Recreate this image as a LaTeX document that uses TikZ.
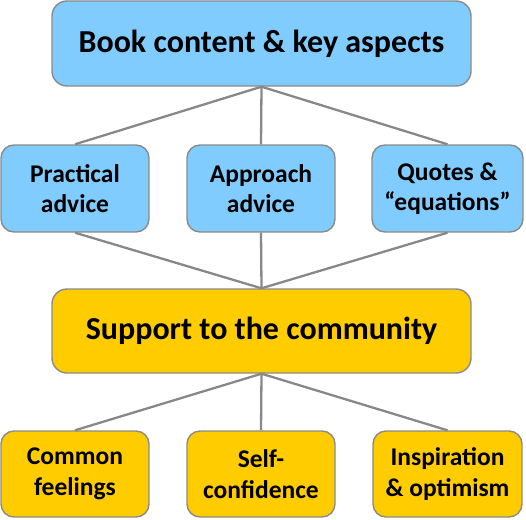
\documentclass[tikz,border=0pt]{standalone}
\usepackage{fontspec}
\setmainfont{Carlito}
\definecolor{boxblue}{HTML}{80CCFF}
\definecolor{boxyellow}{HTML}{FFCC00}
\definecolor{edgegray}{HTML}{8A8A8A}
\definecolor{linegray}{HTML}{888888}
\begin{document}
\begin{tikzpicture}[x=1pt,y=-1pt,
  box/.style={draw=edgegray, line width=1.4pt, rounded corners=13pt, align=center, inner sep=0pt, font=\bfseries\fontsize{25.5}{30.5}\selectfont},
  bigbox/.style={box, rounded corners=15pt, font=\bfseries\fontsize{32}{36}\selectfont},
  blue/.style={fill=boxblue},
  yellow/.style={fill=boxyellow},
  link/.style={draw=linegray, line width=2.3pt}
]
\useasboundingbox (0,0) rectangle (526,519);
\node[bigbox, blue, minimum width=419pt, minimum height=85pt] (top) at (261.5,43.5) {Book content \& key aspects};
\node[box, blue, minimum width=148pt, minimum height=87pt] (pa) at (75,188.5) {Practical\\advice};
\node[box, blue, minimum width=148pt, minimum height=87pt] (aa) at (261,188.5) {Approach\\advice};
\node[box, blue, minimum width=151pt, minimum height=87pt] (qe) at (447.5,188.5) {Quotes \&\\“equations”};
\node[bigbox, yellow, minimum width=419pt, minimum height=84pt] (sc) at (261.5,331) {Support to the community};
\node[box, yellow, minimum width=148pt, minimum height=86pt] (cf) at (75,474) {Common\\feelings};
\node[box, yellow, minimum width=148pt, minimum height=86pt] (sf) at (261,474) {Self-\\confidence};
\node[box, yellow, minimum width=149pt, minimum height=86pt] (io) at (447.5,474) {Inspiration\\\& optimism};
\draw[link] (top.south) -- (pa.north);
\draw[link] (top.south) -- (aa.north);
\draw[link] (top.south) -- (qe.north);
\draw[link] (pa.south) -- (sc.north);
\draw[link] (aa.south) -- (sc.north);
\draw[link] (qe.south) -- (sc.north);
\draw[link] (sc.south) -- (cf.north);
\draw[link] (sc.south) -- (sf.north);
\draw[link] (sc.south) -- (io.north);
\end{tikzpicture}
\end{document}
